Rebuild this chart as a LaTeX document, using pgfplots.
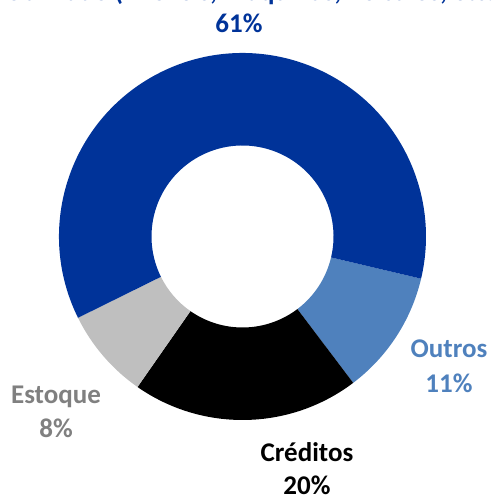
\documentclass[border=0pt]{standalone}
\usepackage{fontspec}
\setmainfont{Carlito}
\usepackage{pgfplots}
\usepackage{pgfplotstable}
\pgfplotsset{compat=1.18}

\definecolor{imob}{RGB}{0,51,153}
\definecolor{outros}{RGB}{79,129,189}
\definecolor{estoque}{RGB}{191,191,191}
\definecolor{estoquetxt}{RGB}{128,128,128}

% share of each slice, clockwise from the right-hand edge of "Outros"
\pgfplotstableread{
label value color
Outros 11 outros
Creditos 20 black
Estoque 8 estoque
Imobilizado 61 imob
}\donut

\tikzset{lbl/.style={anchor=base, font=\fontsize{27}{32}\selectfont\bfseries}}

\begin{document}
\begin{tikzpicture}
\path[use as bounding box, clip] (0,0) rectangle (491pt,498pt);
\begin{axis}[
    at={(0,0)}, anchor=origin,
    x=1pt, y=1pt,
    xmin=0, xmax=491, ymin=0, ymax=498,
    hide axis, clip=false,
]
\pgfplotsextra{
    \xdef\angA{-13.3}
    \foreach \i in {0,...,3}{
        \pgfplotstablegetelem{\i}{value}\of\donut \let\v\pgfplotsretval
        \pgfplotstablegetelem{\i}{color}\of\donut \let\c\pgfplotsretval
        \pgfmathsetmacro\angB{\angA-3.6*\v}
        \fill[color=\c] (axis cs:242.5,261.5) ++(\angA:183.5pt)
            arc[start angle=\angA, end angle=\angB, radius=183.5pt]
            -- ++(\angB:-92.5pt)
            arc[start angle=\angB, end angle=\angA, radius=91pt] -- cycle;
        \xdef\angA{\angB}
    }
}
\node[lbl, text=imob] at (axis cs:240,497) {Imobilizado (Imóveis, Máquinas, Veículos, etc.)};
\node[lbl, text=imob] at (axis cs:239,465) {61\%};
\node[lbl, text=outros] at (axis cs:449,140) {Outros};
\node[lbl, text=outros] at (axis cs:449,106) {11\%};
\node[lbl, text=estoquetxt] at (axis cs:56,95) {Estoque};
\node[lbl, text=estoquetxt] at (axis cs:56,61) {8\%};
\node[lbl, text=black] at (axis cs:307,37) {Créditos};
\node[lbl, text=black] at (axis cs:307,4) {20\%};
\end{axis}
\end{tikzpicture}
\end{document}
